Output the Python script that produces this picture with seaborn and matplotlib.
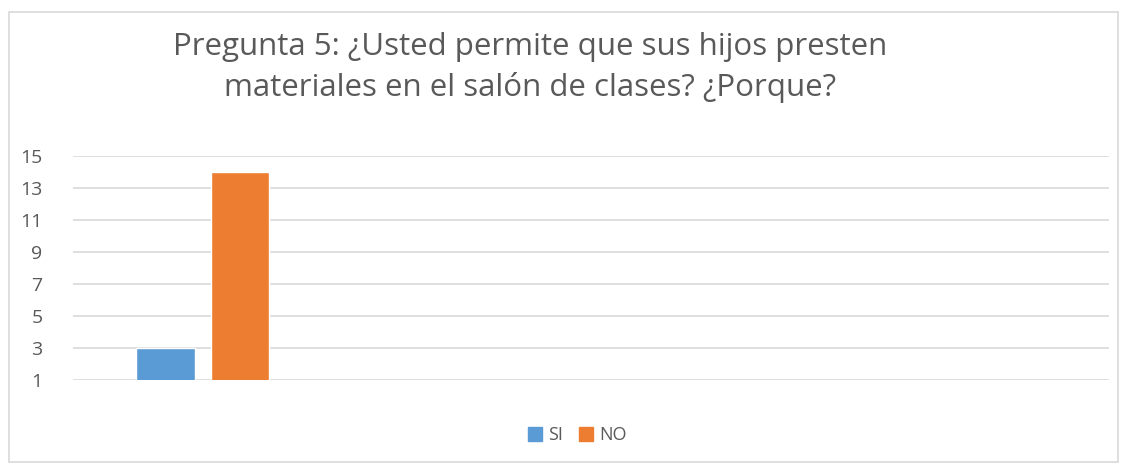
import pandas as pd
import matplotlib.pyplot as plt
import seaborn as sns
from matplotlib.patches import Rectangle

# datos
categorias = ['Pregunta 5']
respuestas = ['SI', 'NO']
valores = [3, 14]
colores = ['#5B9BD5', '#ED7D31']

df = pd.DataFrame({
    'categoria': categorias * len(respuestas),
    'respuesta': respuestas,
    'valor': valores,
})

sns.set_theme(style="white")
plt.rcParams['font.family'] = ['Open Sans', 'DejaVu Sans']

fig = plt.figure(figsize=(11.25, 4.68), dpi=100)
ax = fig.add_axes([0.0649, 0.188, 0.9209, 0.4787])

sns.barplot(data=df, x='categoria', y='valor', hue='respuesta',
            palette=colores, width=0.575, gap=0.215, saturation=1,
            ax=ax, legend=False)

ax.set_xlim(-0.5, 3.5)
ax.set_ylim(1, 15)
ax.set_yticks(range(1, 16, 2))
ax.set_xticks([])
ax.set_xlabel('')
ax.set_ylabel('')
ax.yaxis.grid(True, color='#d9d9d9', linewidth=1.2)
ax.set_axisbelow(True)
for s in ax.spines.values():
    s.set_visible(False)
ax.tick_params(axis='y', labelsize=14, labelcolor='#595959', length=0, pad=22)

# titulo
fig.text(0.471, 0.855, 'Pregunta 5: ¿Usted permite que sus hijos presten\nmateriales en el salón de clases? ¿Porque?',
         ha='center', va='center', fontsize=22.5, color='#595959', linespacing=1.42)

# leyenda
handles = [Rectangle((0, 0), 1, 1, color=c) for c in colores]
fig.legend(handles, respuestas, loc='center', bbox_to_anchor=(0.513, 0.07),
           ncol=2, frameon=False, fontsize=13, labelcolor='#595959',
           handlelength=0.8, handleheight=0.8, handletextpad=0.3, columnspacing=0.9)

# borde del grafico
fig.patches.append(Rectangle((0.008, 0.012), 0.986, 0.963, transform=fig.transFigure,
                             fill=False, edgecolor='#d9d9d9', linewidth=1.2))

fig.savefig('out.png', dpi=100)
